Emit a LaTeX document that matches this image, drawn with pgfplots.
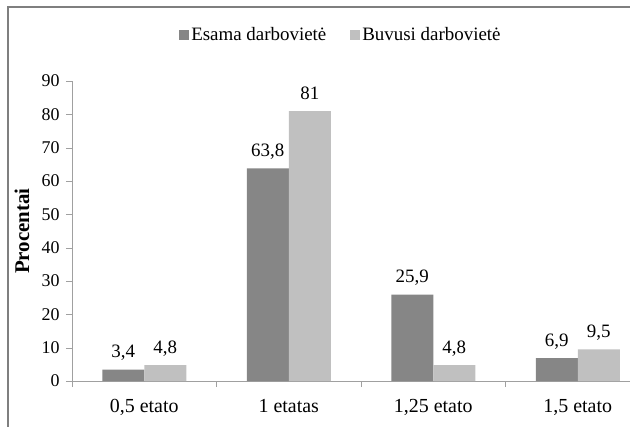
\documentclass[border=0pt]{standalone}
\usepackage{pgfplots}
\pgfplotsset{compat=1.18}
\usepackage{fontspec}
\setmainfont{Liberation Serif}
\definecolor{esama}{HTML}{868686}
\definecolor{buvusi}{HTML}{C0C0C0}
\definecolor{framegray}{HTML}{7F7F7F}
\definecolor{axisgray}{HTML}{A0A0A0}
\newcommand{\lbl}{\fontsize{19}{22}\selectfont}
\begin{document}
\begin{tikzpicture}
\clip (-72bp,-46bp) rectangle (558bp,381bp);
\useasboundingbox (-72bp,-46bp) rectangle (558bp,381bp);
% chart frame (top and left edges)
\draw[framegray, line width=1.6bp] (-64bp,-60bp) -- (-64bp,374bp) -- (600bp,374bp);
\begin{axis}[
  scale only axis,
  width=558bp, height=300bp,
  ymin=0, ymax=90, ytick={0,10,...,90},
  xmin=-0.5, xmax=3.3616,
  xtick={0,1,2,3},
  xticklabels={{\fontsize{20}{23}\selectfont 0,5 etato},
               {\fontsize{20}{23}\selectfont 1 etatas},
               {\fontsize{20}{23}\selectfont 1,25 etato},
               {\fontsize{20}{23}\selectfont 1,5 etato}},
  minor xtick={-0.5,0.5,1.5,2.5},
  major x tick style={draw=none},
  minor x tick style={axisgray},
  minor tick length=6bp,
  major tick length=6bp,
  ytick style={axisgray},
  tick align=outside,
  axis x line*=bottom, axis y line*=left,
  axis line style={axisgray, line width=0.9bp},
  /pgf/number format/assume math mode=true,
  /pgf/number format/use comma,
  yticklabel={\fontsize{18}{21}\selectfont\pgfmathprintnumber{\tick}},
  xticklabel style={yshift=-9bp},
  yticklabel style={xshift=-3bp},
  ylabel={\fontsize{21}{24}\selectfont\bfseries Procentai},
  ylabel style={at={(axis description cs:-0.0896,0.5)}, anchor=center},
  ybar=0pt, bar width=42bp,
  nodes near coords={\lbl\pgfmathprintnumber{\pgfplotspointmeta}},
  nodes near coords style={anchor=base, yshift=12bp, black},
  legend columns=2,
  legend style={at={(axis description cs:0.482,1.153)}, anchor=center, draw=none,
    /tikz/every even column/.append style={column sep=22bp}},
  legend image code/.code={\fill[#1] (0bp,-5bp) rectangle (10bp,5bp);},
]
\addplot[fill=esama, draw=none] coordinates {(0,3.4) (1,63.8) (2,25.9) (3,6.9)};
\addplot[fill=buvusi, draw=none] coordinates {(0,4.8) (1,81) (2,4.8) (3,9.5)};
\legend{{\lbl Esama darbovietė}, {\lbl Buvusi darbovietė}}
\end{axis}
\end{tikzpicture}
\end{document}
